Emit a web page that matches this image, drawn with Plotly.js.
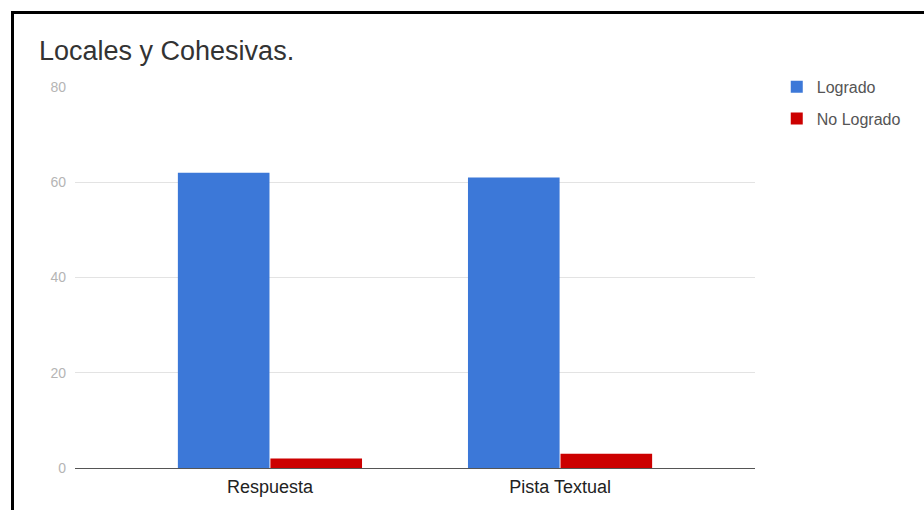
<!DOCTYPE html>
<html>
<head>
<meta charset="utf-8">
<script src="https://cdn.plot.ly/plotly-3.0.1.min.js"></script>
<style>
  html, body { margin: 0; padding: 0; background: #fff; overflow: hidden; }
  #wrap { position: relative; width: 924px; height: 510px; overflow: hidden; }
  #chart { position: absolute; left: 0; top: 0; width: 924px; height: 510px; }
  #frame { position: absolute; left: 11px; top: 11px; width: 1000px; height: 600px;
           border: 3px solid #000; box-sizing: border-box; pointer-events: none; }
</style>
</head>
<body>
<div id="wrap">
  <div id="chart"></div>
  <div id="frame"></div>
</div>
<script>
// Categories and series
const categories = ["Respuesta", "Pista Textual"];
const logrado = [62, 61];
const noLogrado = [2, 3];
const seriesNames = ["Logrado", "No Logrado"];
const yTicks = [0, 20, 40, 60, 80];

const FONT = "Liberation Sans, Arial, sans-serif";

const traces = [
  {
    type: "bar", x: categories, y: logrado, name: seriesNames[0],
    legendgroup: "a",
    marker: { color: "#3c78d8" },
    hoverinfo: "x+y+name"
  },
  {
    type: "bar", x: categories, y: noLogrado, name: seriesNames[1],
    legendgroup: "b",
    marker: { color: "#cc0000" },
    hoverinfo: "x+y+name"
  }
];

const layout = {
  width: 924, height: 510,
  margin: { l: 75, r: 169, t: 87, b: 42, pad: 0 },
  paper_bgcolor: "#ffffff", plot_bgcolor: "#ffffff",
  font: { family: FONT },
  title: {
    text: "Locales y Cohesivas.",
    font: { family: FONT, size: 27, color: "#333333" },
    x: 39 / 924, xref: "container", xanchor: "left",
    y: 1 - 51 / 510, yref: "container", yanchor: "middle"
  },
  barmode: "group",
  bargap: 0.362,
  bargroupgap: 0.01,
  xaxis: {
    type: "category",
    range: [-0.672, 1.672],
    showgrid: false,
    showline: true, linecolor: "#555555", linewidth: 1,
    ticks: "", ticklabelstandoff: 2,
    tickfont: { family: FONT, size: 18, color: "#222222" },
    fixedrange: true
  },
  yaxis: {
    range: [0, 80],
    tickvals: yTicks,
    showgrid: true, gridcolor: "#e3e3e3", gridwidth: 1,
    zeroline: false, showline: false,
    ticks: "", ticklabelstandoff: 8,
    tickfont: { family: FONT, size: 14, color: "#b5b5b5" },
    fixedrange: true
  },
  showlegend: true,
  legend: {
    orientation: "v",
    traceorder: "grouped",
    tracegroupgap: 8,
    x: 1.032, xanchor: "left", xref: "paper",
    y: 1.045, yanchor: "top", yref: "paper",
    font: { family: FONT, size: 16, color: "#555555" },
    bgcolor: "rgba(0,0,0,0)", borderwidth: 0
  }
};

Plotly.newPlot("chart", traces, layout, { displayModeBar: false, staticPlot: true });
</script>
</body>
</html>
